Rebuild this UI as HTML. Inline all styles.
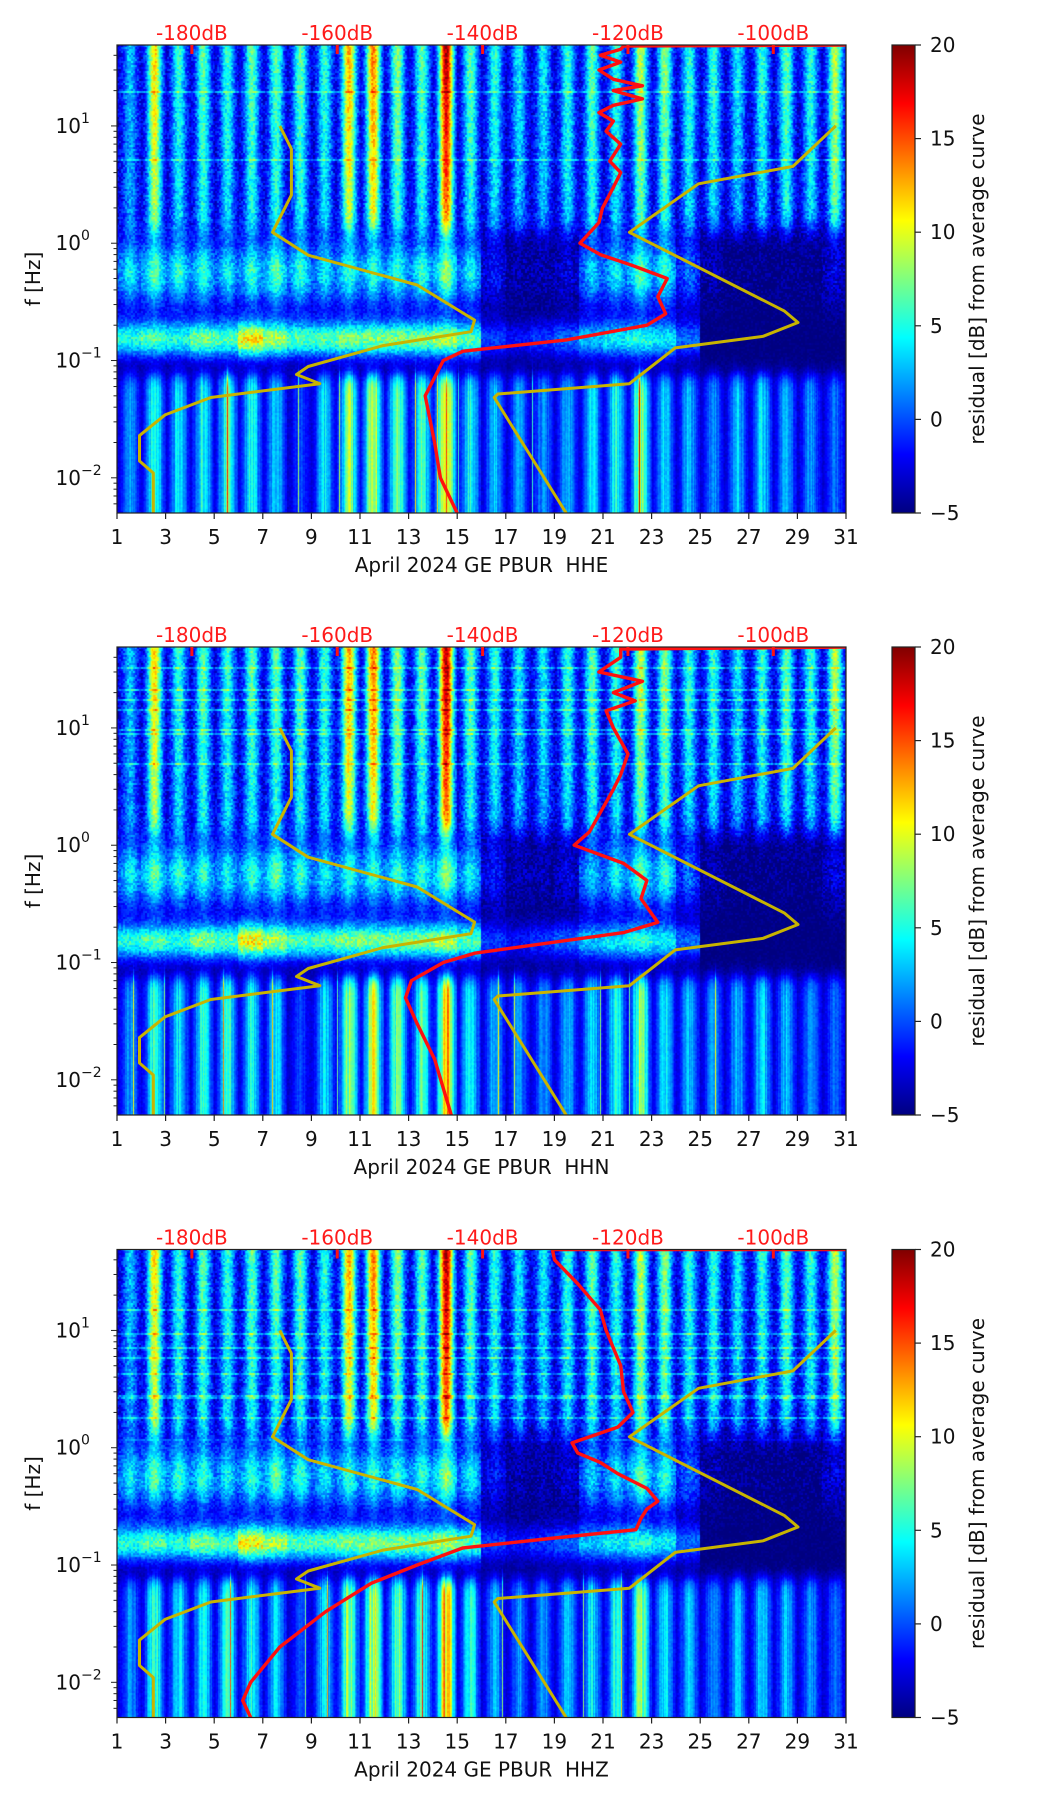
<!DOCTYPE html>
<html><head><meta charset="utf-8">
<style>
html,body{margin:0;padding:0;background:#fff;}
#wrap{position:relative;width:1052px;height:1806px;overflow:hidden;font-family:"DejaVu Sans","Liberation Sans",sans-serif;}
canvas{position:absolute;}
svg{position:absolute;left:0;top:0;}
</style></head>
<body>
<div id="wrap">
<canvas id="c0" width="729" height="468" style="left:117px;top:45px"></canvas>
<canvas id="c1" width="729" height="468" style="left:117px;top:647px"></canvas>
<canvas id="c2" width="729" height="468" style="left:117px;top:1249px"></canvas>
<svg id="svg" width="1052" height="1806"></svg>
</div>
<script>
// ---- data ----
const days = [1,2,3,4,5,6,7,8,9,10,11,12,13,14,15,16,17,18,19,20,21,22,23,24,25,26,27,28,29,30];
const hiAct   = [5,12,7,8,7,8,8,8,7,13,14,9,8,18,8,7,6,6,7,8,7,10,9,7,7,6,7,8,7,10];
const midAct  = [8,10,9,9,8,9,10,9,8,9,9,9,9,11,8,3,1,1,2,7,8,10,9,5,1,0,0,0,0,2];
const bandAct = [9,10,9,11,10,14,12,10,10,11,11,11,11,12,10,4,3,4,5,7,8,9,8,5,0,0,0,0,0,0];
const lowAct  = [5,9,7,8,9,8,7,3,7,11,12,10,9,15,8,6,5,5,6,7,8,11,7,6,5,6,7,6,5,4];
const xTicks = [1,3,5,7,9,11,13,15,17,19,21,23,25,27,29,31];
const dbTicks = [-180,-160,-140,-120,-100];
const cbTicks = [-5,0,5,10,15,20];
const channels = ["HHE","HHN","HHZ"];
// red average curves: dB and frequency
const red0dB = [-90,-120.6,-121,-123.8,-121,-124,-122,-118,-122,-118,-122,-124,-122,-123,-121,-122.5,-121,-122,-123.5,-124,-126.6,-123.8,-119.5,-114.6,-115.9,-114.8,-117.4,-128.5,-142.7,-145.4,-146.2,-147.9,-146.6,-145.8,-143.5];
const red0f  = [49,48,45,40,35,30,25,22,20,17,15,13,11,9,7,5,4,3,2,1.5,1.0,0.8,0.65,0.5,0.35,0.25,0.2,0.15,0.12,0.1,0.08,0.05,0.02,0.01,0.005];
const red1dB = [-90,-121,-121,-124,-118,-122,-119,-123,-122,-120,-121,-122,-125.3,-127.4,-120.6,-117.4,-118.2,-115.9,-120.6,-141.1,-145.4,-149.8,-150.6,-149,-146.6,-145,-144.3];
const red1f  = [49,47,40,30,25,20,17,14,10,6,4,3,1.3,1.0,0.7,0.5,0.35,0.22,0.18,0.12,0.1,0.07,0.05,0.03,0.015,0.007,0.005];
const red2dB = [-90,-130.4,-130.1,-126.9,-123.8,-123,-121,-120.6,-119.3,-121.4,-127.7,-126.9,-123.8,-121.4,-117.4,-115.9,-117.4,-118.2,-118.9,-130.1,-142.7,-149,-155.3,-161.6,-167.9,-171.9,-173,-171.9];
const red2f  = [49,49,40,25,15,10,5,3,2,1.5,1.1,0.9,0.75,0.6,0.45,0.35,0.3,0.25,0.2,0.17,0.14,0.1,0.07,0.04,0.02,0.01,0.007,0.005];
// noise models
const nlnmDB = [-167.9,-166.3,-166.3,-168.9,-164.0,-149.0,-141.1,-141.6,-153.7,-164.0,-165.6,-162.4,-177.4,-183.7,-187.2,-187.2,-185.3,-185.3];
const nlnmF  = [10,6.36,2.57,1.24,0.79,0.44,0.221,0.176,0.134,0.089,0.076,0.0635,0.0484,0.0344,0.0229,0.0139,0.011,0.005];
const nhnmDB = [-91.4,-97.3,-110.3,-119.8,-98.5,-96.6,-101.4,-113.5,-119.8,-137.9,-138.4,-128.5];
const nhnmF  = [10,4.52,3.21,1.24,0.265,0.211,0.161,0.128,0.0635,0.0518,0.0484,0.005];
const redDB = [red0dB, red1dB, red2dB], redF = [red0f, red1f, red2f];

// ---- layout ----
const L=117, R=846, H=468, tops=[45,647,1249.5], cbL=892, cbR=915;
const logTop=1.69, logBot=-2.30, dbMin=-190.3, dbMax=-90;
const xDay = d => L + (d-1)/30*(R-L);
const xDB = db => L + (db-dbMin)/(dbMax-dbMin)*(R-L);
const yF = (f,t) => t + (logTop-Math.log10(f))/(logTop-logBot)*H;

function jet(t){t=Math.max(0,Math.min(1,t));const c=v=>Math.max(0,Math.min(1,1.5-Math.abs(v)));
 return [c(4*t-3)*255,c(4*t-2)*255,c(4*t-1)*255];}
function hash(a,b,s){let h=(a*374761393+b*668265263+s*2147483647)|0;h=(h^(h>>>13))*1274126177|0;return ((h^(h>>>16))>>>0)/4294967295;}

// ---- heatmaps ----
for(let p=0;p<3;p++){
 const cv=document.getElementById('c'+p),ctx=cv.getContext('2d');
 const img=ctx.createImageData(729,468);
 const colN=[];for(let x=0;x<729;x++)colN.push(hash(x,7,p+1));
 for(let y=0;y<468;y++){
  const lf=logTop-(y+0.5)/H*(logTop-logBot);
  const wU=1/(1+Math.exp(-(lf-0.1)/0.06));
  const wM=Math.exp(-0.5*Math.pow((lf+0.25)/0.22,2));
  const wB=Math.exp(-0.5*Math.pow((lf+0.82)/0.11,2));
  const wL=1/(1+Math.exp((lf+1.12)/0.04));
  const rowN=hash(3,y>>1,p+5);
  for(let x=0;x<729;x++){
   const day=1+(x+0.5)/729*30;let di=Math.floor(day)-1;if(di>29)di=29;
   const fr=day-Math.floor(day);
   const g=Math.exp(-0.5*Math.pow((fr-0.55)/0.21,2));
   const g2=Math.exp(-0.5*Math.pow((fr-0.55)/0.25,2));
   const n=hash(x>>1,y>>1,p);
   let v=-5+wU*(2+hiAct[di]*g*1.15*(0.8+0.25*Math.max(0,lf)/1.6)+(rowN>0.93?3:0))
        +wM*midAct[di]*(0.7+0.5*g)+wB*bandAct[di]*(0.95+0.3*n)
        +wL*(1.5+lowAct[di]*g2*(0.8+0.5*colN[x]))+(n-0.5)*2.6*(wU+wM+0.4);
   if(colN[x]>0.985)v+=8*wL;
   const c=jet((v+5)/25),i=(y*729+x)*4;
   img.data[i]=c[0];img.data[i+1]=c[1];img.data[i+2]=c[2];img.data[i+3]=255;
  }
 }
 ctx.putImageData(img,0,0);
}

// ---- svg overlay ----
const NS='http://www.w3.org/2000/svg', svg=document.getElementById('svg');
function el(tag,attrs,parent,txt){const e=document.createElementNS(NS,tag);for(const k in attrs)e.setAttribute(k,attrs[k]);if(txt!==undefined)e.textContent=txt;(parent||svg).appendChild(e);return e;}
const defs=el('defs',{});
const grad=el('linearGradient',{id:'jetg',x1:0,y1:1,x2:0,y2:0},defs);
[[0,'#000080'],[0.125,'#0000ff'],[0.375,'#00ffff'],[0.625,'#ffff00'],[0.875,'#ff0000'],[1,'#800000']].forEach(s=>el('stop',{offset:s[0],'stop-color':s[1]},grad));

for(let p=0;p<3;p++){
 const t=tops[p];
 const g=el('g',{});
 
 
 const cp=el('clipPath',{id:'clip'+p},defs);el('rect',{x:L,y:t,width:R-L,height:H},cp);
 const lines=el('g',{'clip-path':'url(#clip'+p+')'},g);
 const mk=(dbs,fs,col,w,name)=>{const pts=dbs.map((d,i)=>xDB(d).toFixed(1)+','+yF(fs[i],t).toFixed(1)).join(' ');
  const e=el('polyline',{points:pts,fill:'none',stroke:col,'stroke-width':w,'stroke-linejoin':'round'},lines);
  
  };
 mk(nlnmDB,nlnmF,'#c8b400',3,'nlnm-curve');
 mk(nhnmDB,nhnmF,'#c8b400',3,'nhnm-curve');
 mk(redDB[p],redF[p],'#ff1010',3.4,'average-psd-curve');
 el('rect',{x:L,y:t,width:R-L,height:H,fill:'none',stroke:'#222','stroke-width':1.2},g);
 xTicks.forEach(d=>{const x=xDay(d);el('line',{x1:x,y1:t+H,x2:x,y2:t+H+6,stroke:'#222','stroke-width':1.2},g);
  const tx=el('text',{x:x,y:t+H+31,'font-size':20,'text-anchor':'middle',fill:'#111'},g,String(d));
  
  });
 dbTicks.forEach(db=>{const x=xDB(db);el('line',{x1:x,y1:t,x2:x,y2:t+9,stroke:'#ff1010','stroke-width':3},g);
  const tx=el('text',{x:x,y:t-5,'font-size':20,'text-anchor':'middle',fill:'#ff1a1a'},g,db+'dB');
  
  });
 for(let e=-3;e<=1;e++){for(let m=1;m<10;m++){const f=m*Math.pow(10,e);const lf=Math.log10(f);if(lf<logBot||lf>logTop)continue;
   const y=yF(f,t);el('line',{x1:L,y1:y,x2:L-(m===1?6:3.5),y2:y,stroke:'#222','stroke-width':1},g);
   if(m===1){const tx=el('text',{x:L-36,y:y+7,'font-size':20,'text-anchor':'end',fill:'#111'},g,'10');
    
    
    el('text',{x:L-36,y:y-3,'font-size':14,'text-anchor':'start',fill:'#111'},g,e<0?'\u2212'+(-e):String(e));}}}
 const xl=el('text',{x:(L+R)/2,y:t+H+59,'font-size':20,'text-anchor':'middle',fill:'#111'},g,'April 2024 GE PBUR\u00a0 '+channels[p]);
 
 
 const yl=el('text',{transform:'translate(40,'+(t+H/2)+') rotate(-90)','font-size':20,'text-anchor':'middle',fill:'#111'},g,'f [Hz]');
 
 
 const cb=el('rect',{x:cbL,y:t,width:cbR-cbL,height:H,fill:'url(#jetg)',stroke:'#222','stroke-width':1.2},g);
 
 
 cbTicks.forEach(v=>{const y=t+H-(v+5)/25*H;el('line',{x1:cbR,y1:y,x2:cbR+6,y2:y,stroke:'#222','stroke-width':1.2},g);
  const tx=el('text',{x:cbR+15,y:y+7,'font-size':20,fill:'#111'},g,v<0?'\u2212'+(-v):String(v));
  
  });
 const cl=el('text',{transform:'translate(984,'+(t+H/2)+') rotate(-90)','font-size':20,'text-anchor':'middle',fill:'#111'},g,'residual [dB] from average curve');
 
 
}
</script>
</body></html>
